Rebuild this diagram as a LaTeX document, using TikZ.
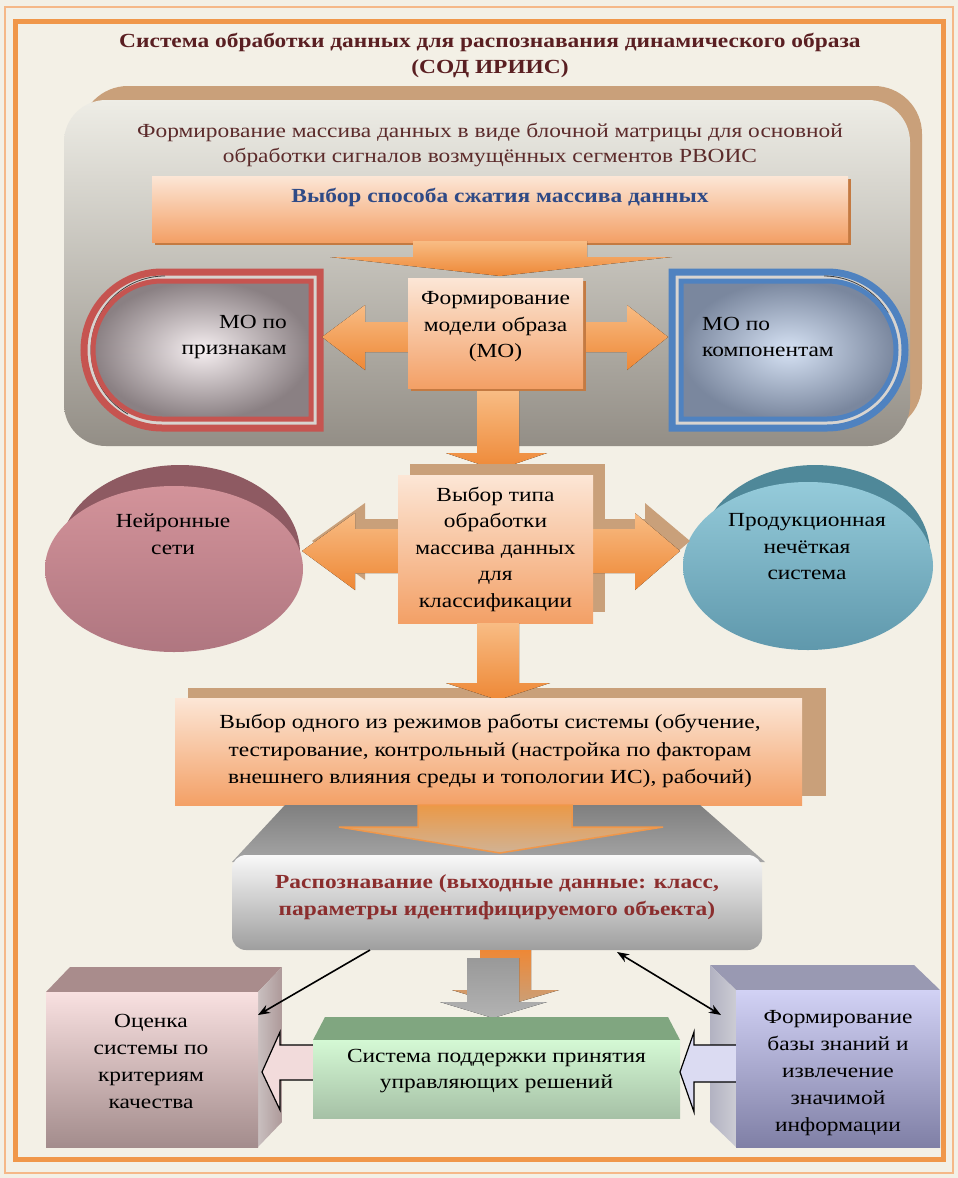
\documentclass[tikz,border=0pt]{standalone}
\usepackage{fontspec}
\setmainfont[FakeStretch=1.17]{Liberation Serif}
\usetikzlibrary{calc,arrows.meta}
\definecolor{bgc}{HTML}{F3F0E6}
\definecolor{bord}{HTML}{F0974A}
\definecolor{bordl}{HTML}{F5B888}
\definecolor{tanc}{HTML}{C9A07A}
\definecolor{titc}{HTML}{5A1F22}
\definecolor{panc}{HTML}{5C2B2B}
\definecolor{panT}{HTML}{EEEDE6}
\definecolor{panB}{HTML}{938E86}
\definecolor{boxT}{HTML}{FCE6D6}
\definecolor{boxB}{HTML}{F3A066}
\definecolor{boxS}{HTML}{C47A42}
\definecolor{arrT}{HTML}{F8BC84}
\definecolor{arrB}{HTML}{EE8836}
\definecolor{navy}{HTML}{2F4A86}
\definecolor{redc}{HTML}{C65450}
\definecolor{bluec}{HTML}{4F82C0}
\definecolor{recc}{HTML}{8B2E2E}
\definecolor{dLin}{HTML}{F6EFF1}
\definecolor{dLout}{HTML}{8A8083}
\definecolor{dRin}{HTML}{D6E2F4}
\definecolor{dRout}{HTML}{7A879E}
\definecolor{dgap}{HTML}{D8D4D0}
\definecolor{elLband}{HTML}{8E5A62}
\definecolor{elLT}{HTML}{D3939A}
\definecolor{elLB}{HTML}{AF7680}
\definecolor{elRband}{HTML}{4F8899}
\definecolor{elRT}{HTML}{95CBDA}
\definecolor{elRB}{HTML}{5F98AC}
\tikzset{
  txt/.style={font=\fontsize{20}{26.5}\selectfont, align=center, text=black, inner sep=0pt},
  orbox/.style={top color=boxT, bottom color=boxB},
  orarrow/.style={top color=arrT, bottom color=arrB},
}
\begin{document}
\begin{tikzpicture}[x=1pt,y=-1pt]
\useasboundingbox (0,0) rectangle (958,1178);
\fill[bgc] (0,0) rectangle (958,1178);
\draw[bordl, line width=2.5] (5,7) rectangle (953,1173);
\draw[bord, line width=5] (15,21) rectangle (943,1159);

% title
\node[txt, font=\bfseries\fontsize{20}{26}\selectfont, text=titc] (title) at (490,55)
  {Система обработки данных для распознавания динамического образа\\(СОД ИРИИС)};

% panel
\fill[tanc, rounded corners=48] (80,86) rectangle (922,432);
\shade[top color=panT, bottom color=panB, rounded corners=42] (64,100) rectangle (910,446);
\node[txt, font=\fontsize{20}{25}\selectfont, text=panc] (ptext) at (490,145)
  {Формирование массива данных в виде блочной матрицы для основной\\обработки сигналов возмущённых сегментов РВОИС};

% box 1
\fill[boxS] (155,179) rectangle (851,245);
\node[orbox, minimum width=696, minimum height=66, inner sep=0pt] (b1) at (500,209) {};
\node[txt, font=\bfseries\fontsize{20}{26}\selectfont, text=navy] (b1t) at (500,197) {Выбор способа сжатия массива данных};
\fill[orarrow] (413,241) -- (587,241) -- (587,257) -- (672,257) -- (500,276) -- (330,257) -- (413,257) -- cycle;

% D shapes
\fill[dgap] (320,272) -- (162,272) arc[start angle=270, end angle=90, radius=78] -- (320,428) -- cycle;
\draw[redc, line width=7] (320,272) -- (162,272) arc[start angle=270, end angle=90, radius=78] -- (320,428) -- cycle;
\draw[black!75, line width=0.8] (165,276) arc[start angle=270, end angle=120, radius=74];
\shade[inner color=dLin, outer color=dLout] (311,281) -- (162,281) arc[start angle=270, end angle=90, radius=69] -- (311,419) -- cycle;
\draw[redc, line width=5] (311,281) -- (162,281) arc[start angle=270, end angle=90, radius=69] -- (311,419) -- cycle;
\node[txt, align=right, anchor=east] (mo1) at (287,337) {МО по\\признакам};

\fill[dgap] (672,272) -- (827,272) arc[start angle=270, end angle=450, radius=78] -- (672,428) -- cycle;
\draw[bluec, line width=7] (672,272) -- (827,272) arc[start angle=270, end angle=450, radius=78] -- (672,428) -- cycle;
\draw[black!75, line width=0.8] (824,276) arc[start angle=270, end angle=330, radius=74];
\shade[inner color=dRin, outer color=dRout] (681,281) -- (827,281) arc[start angle=270, end angle=450, radius=69] -- (681,419) -- cycle;
\draw[bluec, line width=5] (681,281) -- (827,281) arc[start angle=270, end angle=450, radius=69] -- (681,419) -- cycle;
\node[txt, align=left, anchor=west] (mo2) at (702,337) {МО по\\компонентам};

% horizontal arrow row 1
\fill[orarrow] (322,337) -- (365,305) -- (365,322) -- (627,322) -- (627,305) -- (668,337) -- (627,370) -- (627,352) -- (365,352) -- (365,370) -- cycle;
\fill[boxS] (411,281) rectangle (586,391);
\node[orbox, minimum width=175, minimum height=110, inner sep=0pt] (mo) at (495.5,333) {};
\node[txt] (mot) at (495.5,327) {Формирование\\модели образа\\(МО)};

% arrow down 1
\fill[orarrow] (477,391) -- (519,391) -- (519,453) -- (547,453) -- (497,470) -- (446,453) -- (477,453) -- cycle;

% ellipses
\fill[elLband] (180,553) ellipse[x radius=120, y radius=88];
\shade[top color=elLT, bottom color=elLB] (174,569) ellipse[x radius=129, y radius=83];
\node[txt] (nn) at (173,534) {Нейронные\\сети};
\fill[elRband] (815,553) ellipse[x radius=115, y radius=88];
\shade[top color=elRT, bottom color=elRB] (808,566) ellipse[x radius=125, y radius=84];
\node[txt] (fz) at (807,547) {Продукционная\\нечёткая\\система};

% row 2 arrow + box2
\fill[tanc] (410,464) rectangle (605,612);
\fill[tanc] (312,541) -- (365,503) -- (365,519) -- (645,519) -- (645,503) -- (690,541) -- (645,580) -- (645,563) -- (365,563) -- (365,580) -- cycle;
\fill[orarrow] (302,551) -- (355,513) -- (355,529) -- (635,529) -- (635,513) -- (680,551) -- (635,590) -- (635,573) -- (355,573) -- (355,590) -- cycle;
\node[orbox, minimum width=195, minimum height=148, inner sep=0pt] (b2) at (495.5,549) {};
\node[txt] (b2t) at (495.5,549) {Выбор типа\\обработки\\массива данных\\для\\классификации};

% box3
\fill[tanc] (188,688) rectangle (826,796);
\fill[orarrow] (477,623) -- (519,623) -- (519,683) -- (550,683) -- (498,700) -- (446,683) -- (477,683) -- cycle;
\node[orbox, minimum width=627, minimum height=107, inner sep=0pt] (b3) at (488.5,751.5) {};
\node[txt, font=\fontsize{20}{27.5}\selectfont] (b3t) at (490,751) {Выбор одного из режимов работы системы (обучение,\\тестирование, контрольный (настройка по факторам\\внешнего влияния среды и топологии ИС), рабочий)};

% big arrow
\shade[top color=black!50, bottom color=black!35] (285,805) -- (700,805) -- (765,862) -- (232,862) -- cycle;
\shade[top color=orange!60!brown!80, bottom color=gray!60!orange!60, draw=bord, line width=1.5] (418,805) -- (572,805) -- (572,827) -- (663,827) -- (500,853) -- (339,827) -- (418,827) -- cycle;

% box4
\node[rounded corners=14, top color=white!95!gray, bottom color=black!38, minimum width=530, minimum height=95, inner sep=0pt] (rec) at (497,902.5) {};
\node[txt, font=\bfseries\fontsize{20}{27}\selectfont, text=recc] (rect) at (497,897) {Распознавание (выходные данные: класс,\\параметры идентифицируемого объекта)};

% bottom arrows
\fill[top color=arrB, bottom color=tanc] (480,950) -- (531,950) -- (531,990) -- (559,990) -- (505,1006) -- (452,990) -- (480,990) -- cycle;
\fill[top color=black!40, bottom color=black!30] (467,958) -- (519,958) -- (519,1002) -- (547,1002) -- (493,1018) -- (440,1002) -- (467,1002) -- cycle;

% left 3D box
\fill[red!25!black!45!white] (46,992) -- (70,967) -- (282,967) -- (258,992) -- cycle;
\shade[left color=red!15!black!25!white, right color=red!20!black!40!white] (258,992) -- (282,967) -- (282,1122) -- (258,1147) -- cycle;
\node[top color=red!10!white!95!gray, bottom color=red!20!black!45!white, minimum width=212, minimum height=155, inner sep=0pt] (ev) at (152,1069.5) {};
\node[txt, font=\fontsize{20}{27}\selectfont] (evt) at (151,1061) {Оценка\\системы по\\критериям\\качества};

% right 3D box
\fill[blue!25!black!40!white] (710,965) -- (914,965) -- (940,990) -- (736,990) -- cycle;
\shade[left color=blue!20!black!30!white, right color=blue!15!black!20!white] (710,965) -- (736,990) -- (736,1147) -- (710,1122) -- cycle;
\node[top color=blue!15!white!92!gray, bottom color=blue!30!black!50!white, minimum width=204, minimum height=157, inner sep=0pt] (kb) at (838,1068.5) {};
\node[txt, font=\fontsize{20}{27}\selectfont] (kbt) at (838,1073) {Формирование\\базы знаний и\\извлечение\\значимой\\информации};

% center 3D box
\fill[green!30!black!50!white] (313,1040) -- (325,1017) -- (668,1017) -- (680,1040) -- cycle;
\node[top color=green!15!white!95!gray, bottom color=green!30!black!35!white, minimum width=367, minimum height=78, inner sep=0pt] (ds) at (496.5,1079) {};
\node[txt] (dst) at (496.5,1071) {Система поддержки принятия\\управляющих решений};

% hollow arrows
\filldraw[fill=red!10!white!90!gray, draw=black, line width=1.2] (ds.west |- 0,1045) -- (280,1045) -- (280,1032) -- (262,1072) -- (280,1110) -- (280,1080) -- (ds.west |- 0,1080);
\filldraw[fill=blue!10!white!90!gray, draw=black, line width=1.2] (kb.west |- 0,1045) -- (694,1045) -- (694,1032) -- (680,1072) -- (694,1112) -- (694,1082) -- (kb.west |- 0,1082);

% black connectors
\coordinate (c1) at (370,950);
\coordinate (c2) at (258,1015);
\coordinate (c3) at (617,952);
\coordinate (c4) at (721,1015);
\draw[-{Stealth[length=12pt,width=9pt]}, line width=1.6] (c1) -- (c2);
\draw[{Stealth[length=12pt,width=9pt]}-{Stealth[length=12pt,width=9pt]}, line width=1.6] (c3) -- (c4);
\end{tikzpicture}
\end{document}
